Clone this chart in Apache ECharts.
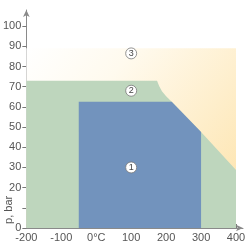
<!DOCTYPE html>
<html><head><meta charset="utf-8">
<script src="https://cdn.jsdelivr.net/npm/echarts@6/dist/echarts.min.js"></script>
<style>html,body{margin:0;padding:0;background:#fff}#c{width:250px;height:250px}</style>
</head><body><div id="c"></div>
<script>
// Region boundaries (temperature °C, pressure bar)
const region3 = [[-200,0],[-200,89],[400,89],[400,0]];
const region2 = [[-200,0],[-200,73],[174,73],[180,70.3],[188,67.8],[200,65.3],[216,62.5],[300,47.5],[400,28.7],[400,0]];
const region1 = [[-50,0],[-50,62.5],[216,62.5],[300,47.5],[300,0]];
const markerX = [100,100,100];
const markerY = [30,68,86.5];
const markerText = ['1','2','3'];
const xTicks = [-200,-150,-100,-50,0,50,100,150,200,250,300,350,400];
const xLabels = [-200,-100,0,100,200,300,400];
const yTicks = [0,10,20,30,40,50,60,70,80,90,100];
const yLabels = [0,20,30,40,50,60,70,80,90,100];
const yName = 'p, bar';

const font = 'Liberation Sans';
function polySeries(pts, fill, z){
  return {type:'custom', z:z, silent:true, data:[0],
    renderItem:(params, api)=>({type:'polygon', shape:{points:pts.map(p=>api.coord(p))}, style:{fill:fill}})};
}
const chart = echarts.init(document.getElementById('c'), null, {renderer:'canvas'});
chart.setOption({
  animation:false,
  grid:{left:26,right:7,top:10,bottom:22},
  xAxis:{type:'value',min:-200,max:420,interval:50,
    axisLine:{onZero:false,lineStyle:{color:'#8a8a8a',width:1},symbol:['none','arrow'],symbolSize:[5,7]},
    axisTick:{show:true,inside:true,length:4,customValues:xTicks,lineStyle:{color:'#777'}},
    axisLabel:{customValues:xLabels,margin:4,color:'#555',fontSize:11,fontFamily:font,
      formatter:v=>v===0?'0°C':String(v)},
    splitLine:{show:false}},
  yAxis:{type:'value',min:0,max:108,interval:10,
    axisLine:{show:true,onZero:false,lineStyle:{color:'#8a8a8a',width:1},symbol:['none','arrow'],symbolSize:[5,7]},
    axisTick:{show:true,length:4,customValues:yTicks,lineStyle:{color:'#777'}},
    axisLabel:{customValues:yLabels,margin:5,color:'#555',fontSize:11,fontFamily:font},
    splitLine:{show:false}},
  series:[
    polySeries(region3, new echarts.graphic.LinearGradient(0,0,1,1,[{offset:0,color:'#ffffff'},{offset:0.3,color:'#fffaee'},{offset:1,color:'#fde2a8'}]), 1),
    polySeries(region2, '#bed6bd', 2),
    polySeries(region1, '#7293bd', 3),
    {type:'custom', z:5, silent:true, data:[0],
      renderItem:(params, api)=>{const c=api.coord([-200,9]);
        return {type:'text', x:c[0]-17, y:c[1], rotation:Math.PI/2,
          style:{text:yName, textAlign:'center', textVerticalAlign:'middle', fill:'#555', font:'11px '+font}};}},
    {type:'scatter', z:6, silent:true, symbol:'circle', symbolSize:11,
      data:markerX.map((x,i)=>[x,markerY[i],markerText[i]]),
      itemStyle:{color:'#fff',borderColor:'#777',borderWidth:0.8,opacity:1},
      label:{show:true,position:'inside',formatter:p=>p.data[2],color:'#444',fontSize:9,fontFamily:font}}
  ]
});
</script></body></html>
